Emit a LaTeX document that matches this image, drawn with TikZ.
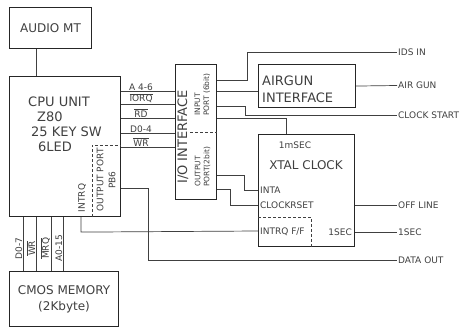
\documentclass[tikz,border=0pt]{standalone}
\usepackage{fontspec}
\setmainfont{DejaVu Sans}
\newcommand\ovl[1]{$\overline{\hbox{#1}}$}
\begin{document}
\begin{tikzpicture}[x=1pt,y=-1pt,
  ln/.style={draw=black!75, line width=0.7pt},
  dsh/.style={draw=black!75, line width=0.7pt, dash pattern=on 3pt off 2pt},
  box/.style={draw=black!85, line width=1.1pt, inner sep=0pt, anchor=north west, text=black!75},
  txt/.style={text=black!75, inner sep=1pt},
  fs/.style={font=\fontsize{9}{11}\selectfont},
  fxs/.style={font=\fontsize{7.5}{9}\selectfont},
  fm/.style={font=\fontsize{12}{14}\selectfont},
  fl/.style={font=\fontsize{13}{15}\selectfont},
  sig/.style={txt, fs, inner sep=0.5pt}]
\fill[white] (0,0) rectangle (465,328);
\useasboundingbox (0,0) rectangle (465,328);

% boxes
\node[box, fm, minimum width=82pt, minimum height=41pt] (audio) at (9,7) {AUDIO MT};
\node[box, minimum width=111pt, minimum height=140pt] (cpu) at (9,76) {};
\node[box, minimum width=41pt, minimum height=135pt] (iface) at (175,64) {};
\node[box, minimum width=97pt, minimum height=43pt] (airgun) at (258,64) {};
\node[box, minimum width=96pt, minimum height=112pt] (xtal) at (258,134) {};
\node[box, minimum width=109pt, minimum height=55pt, align=center, fm] (cmos) at (9,271) {CMOS MEMORY\\[2pt](2Kbyte)};

% CPU text
\node[txt, fl, anchor=west] (t1) at (27,102) {CPU UNIT};
\node[txt, fl, anchor=west] (t2) at (36,117) {Z80};
\node[txt, fl, anchor=west] (t3) at (30,132) {25 KEY SW};
\node[txt, fl, anchor=west] (t4) at (37,147) {6LED};
\draw[dsh] ([xshift=83pt]cpu.south west) |- ([yshift=-69pt]cpu.north east);
\node[txt, rotate=90, align=center, font=\fontsize{9}{12}\selectfont] (op) at (106,180) {OUTPUT PORT\\PB6};
\node[txt, fs, rotate=90] (intrq) at (82,198) {INTRQ};

% interface text
\node[txt, rotate=90, font=\fontsize{13}{15}\selectfont] (io) at (183,137) {I/O INTERFACE};
\node[txt, fxs, rotate=90, anchor=west, align=left] (inp) at (202.5,117) {INPUT\\PORT (6bit)};
\node[txt, fxs, rotate=90, anchor=west, align=left] (outp) at (202.5,188) {OUTPUT\\PORT(2bit)};
\draw[dsh] ([xshift=15pt,yshift=-68pt]iface.north west) -- ([yshift=-68pt]iface.north east);

% airgun text
\node[txt, fl, anchor=west] (ag1) at (261,81) {AIRGUN};
\node[txt, fl, anchor=west] (ag2) at (261,98) {INTERFACE};

% xtal text
\node[txt, fs] (ms) at (295,145) {1mSEC};
\node[txt, fm] (xc) at (306,165) {XTAL CLOCK};
\node[txt, fs, anchor=west] (inta) at (259,190) {INTA};
\node[txt, fs, anchor=west] (crs) at (259,205) {CLOCKRSET};
\node[txt, fs, anchor=west] (iff) at (259,232) {INTRQ F/F};
\node[txt, fs, anchor=east] (s1) at (353,232) {1SEC};
\draw[dsh] ([yshift=-83pt]xtal.north west) -| ([xshift=53pt]xtal.south west);

% right labels
\node[txt, fs, anchor=west] (ids) at (397,52) {IDS IN};
\node[txt, fs, anchor=west] (air) at (397,85.5) {AIR GUN};
\node[txt, fs, anchor=west] (clk) at (397,115) {CLOCK START};
\node[txt, fs, anchor=west] (off) at (397,205) {OFF LINE};
\node[txt, fs, anchor=west] (sec) at (397,232) {1SEC};
\node[txt, fs, anchor=west] (dout) at (397,260) {DATA OUT};

% audio - cpu
\draw[ln] ([xshift=27pt]audio.south west) -- ([xshift=27pt]cpu.north west);

% cpu - interface signals
\draw[ln] ([yshift=-15pt]cpu.north east) -- node[sig, above, pos=0.37] {A 4-6} ([yshift=-27pt]iface.north west);
\draw[ln] ([yshift=-28pt]cpu.north east) -- node[sig, above, pos=0.37] {\ovl{IORQ}} ([yshift=-40pt]iface.north west);
\draw[ln] ([yshift=-42pt]cpu.north east) -- node[sig, above, pos=0.37] {\ovl{RD}} ([yshift=-54pt]iface.north west);
\draw[ln] ([yshift=-57pt]cpu.north east) -- node[sig, above, pos=0.37] {D0-4} ([yshift=-69pt]iface.north west);
\draw[ln] ([yshift=-71pt]cpu.north east) -- node[sig, above, pos=0.37] {\ovl{WR}} ([yshift=-83pt]iface.north west);

% interface outputs
\draw[ln] ([yshift=-16pt]iface.north east) -- ++(30,0) |- (ids.west);
\draw[ln] ([yshift=-27pt]iface.north east) -- ([yshift=-27pt]airgun.north west);
\draw[ln] ([yshift=-42pt]iface.north east) -- ++(28,0) |- (clk.west);
\draw[ln] ([yshift=-54pt]iface.north east) -| ([xshift=28pt]xtal.north west);
\draw[ln] ([yshift=-111pt]iface.north east) -- ++(27,0) |- ([yshift=-56pt]xtal.north west);
\draw[ln] ([yshift=-125pt]iface.north east) -- ++(13,0) |- ([yshift=-71pt]xtal.north west);

% airgun / xtal outputs
\draw[ln] (airgun.east) -- (air.west);
\draw[ln] ([yshift=-71pt]xtal.north east) -- (off.west);
\draw[ln] ([yshift=-98pt]xtal.north east) -- (sec.west);

% INTRQ and PB6
\draw[ln] ([xshift=72pt]cpu.south west) -- ++(0,15) -- ([yshift=-97pt]xtal.north west);
\draw[ln] ([yshift=-112pt]cpu.north east) -- ++(27,0) |- (dout.west);

% memory bus
\draw[ln] ([xshift=14pt]cpu.south west) -- node[sig, pos=0.58, rotate=90, anchor=south] {D0-7} ([xshift=14pt]cmos.north west);
\draw[ln] ([xshift=27pt]cpu.south west) -- node[sig, pos=0.58, rotate=90, anchor=south] {\ovl{WR}} ([xshift=27pt]cmos.north west);
\draw[ln] ([xshift=42pt]cpu.south west) -- node[sig, pos=0.58, rotate=90, anchor=south] {\ovl{MRQ}} ([xshift=42pt]cmos.north west);
\draw[ln] ([xshift=54pt]cpu.south west) -- node[sig, pos=0.58, rotate=90, anchor=south] {A0-15} ([xshift=54pt]cmos.north west);
\end{tikzpicture}
\end{document}
